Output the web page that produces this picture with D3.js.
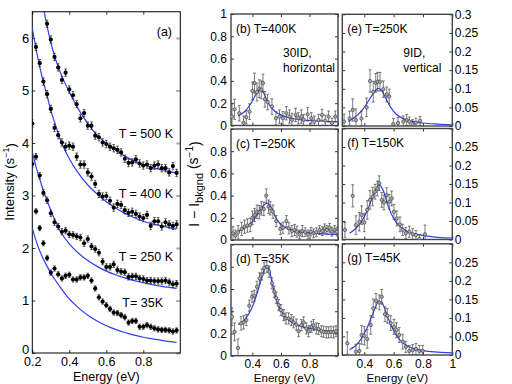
<!DOCTYPE html>
<html><head><meta charset="utf-8">
<script src="https://cdn.jsdelivr.net/npm/d3@7"></script>
<style>body{margin:0;background:#fff}svg{display:block;font-family:"Liberation Sans",Arial,sans-serif}</style>
</head><body><svg id="c" width="512" height="384"></svg>
<script>
// ---------- Panel (a) data ----------
const energyA = [0.20,0.22,0.24,0.26,0.28,0.30,0.32,0.34,0.36,0.38,0.40,0.42,0.44,0.46,0.48,0.50,0.52,0.54,0.56,0.58,0.60,0.62,0.64,0.66,0.68,0.70,0.72,0.74,0.76,0.78,0.80,0.82,0.84,0.86,0.88,0.90,0.92,0.94,0.96,0.98];
const t500 = [null,null,null,null,6.27,5.97,5.64,5.44,5.20,5.34,5.02,4.91,4.74,4.47,4.57,4.33,4.33,4.14,4.11,4.01,3.98,3.93,3.90,3.87,3.82,3.70,3.62,3.63,3.69,3.61,3.57,3.59,3.52,3.57,3.59,3.52,3.52,3.44,3.56,3.43];
const t400 = [4.37,5.83,5.52,5.17,4.93,4.65,4.29,4.15,4.01,3.93,3.95,3.93,3.74,3.59,3.59,3.44,3.36,3.22,3.03,2.98,2.99,2.90,2.77,2.84,2.82,2.72,2.67,2.69,2.65,2.60,2.57,2.63,2.42,2.51,2.51,2.41,2.49,2.45,2.42,2.45];
const t250 = [3.60,3.74,3.38,3.05,2.91,2.66,2.49,2.41,2.31,2.33,2.26,2.25,2.22,2.20,2.09,2.17,2.03,1.98,1.91,1.74,1.64,1.64,1.69,1.58,1.55,1.54,1.45,1.46,1.46,1.42,1.41,1.38,1.38,1.37,1.37,1.37,1.38,1.35,1.31,1.32];
const t35  = [null,2.70,2.38,2.09,1.81,1.53,1.61,1.50,1.42,1.47,1.49,1.40,1.40,1.44,1.44,1.47,1.38,1.23,1.06,0.98,0.91,0.84,0.77,0.76,0.72,0.68,0.58,0.61,0.61,0.50,0.50,0.53,0.50,0.47,0.45,0.44,0.44,0.43,0.41,0.43];
const errA = [0.07,0.07,0.06,0.05];
const fitEA = [0.20,0.22,0.25,0.28,0.30,0.32,0.35,0.40,0.45,0.50,0.55,0.60,0.65,0.70,0.75,0.80,0.85,0.90,0.95,0.98];
const fit500 = [null,null,6.78,6.22,5.92,5.66,5.36,4.97,4.64,4.37,4.15,3.99,3.86,3.75,3.66,3.59,3.53,3.49,3.45,3.43];
const fit400 = [6.18,5.80,5.30,4.90,4.62,4.40,4.08,3.70,3.42,3.20,3.03,2.88,2.76,2.66,2.58,2.51,2.46,2.42,2.38,2.36];
const fit250 = [3.83,3.55,3.20,2.90,2.72,2.55,2.33,2.08,1.90,1.76,1.65,1.56,1.49,1.43,1.38,1.34,1.30,1.27,1.245,1.23];
const fit35  = [2.38,2.14,1.86,1.65,1.52,1.41,1.26,1.03,0.86,0.72,0.61,0.52,0.45,0.39,0.34,0.30,0.27,0.24,0.215,0.20];
const seriesLabels = ["T = 500 K","T = 400 K","T = 250 K","T= 35K"];
const ticksAx = [0.2,0.4,0.6,0.8];
const ticksAy = [0,1,2,3,4,5,6];

// ---------- Panels (b)-(g) data: [energy, I - Ibkgnd, error] ----------
const dataB = [[0.257,0.08,0.12],[0.275,0.145,0.09],[0.308,0.11,0.07],[0.338,0.025,0.06],[0.357,0.074,0.06],[0.38,0.124,0.07],[0.40,0.31,0.08],[0.415,0.38,0.09],[0.432,0.30,0.08],[0.448,0.33,0.08],[0.462,0.32,0.08],[0.474,0.38,0.08],[0.488,0.235,0.07],[0.507,0.21,0.07],[0.537,0.17,0.07],[0.565,0.065,0.06],[0.59,0.08,0.06],[0.614,0.065,0.06],[0.638,0.11,0.06],[0.66,0.08,0.06],[0.677,0.05,0.06],[0.703,0.095,0.06],[0.722,0.065,0.05],[0.743,0.08,0.06],[0.759,0.05,0.05],[0.787,0.10,0.06],[0.813,0.065,0.05],[0.834,0.035,0.05],[0.864,0.05,0.05],[0.888,0.095,0.05],[0.911,0.043,0.05],[0.934,0.08,0.05],[0.958,0.025,0.04],[0.981,0.08,0.05]];
const dataC = [[0.264,0.06,0.06],[0.28,0.04,0.05],[0.30,0.07,0.06],[0.325,0.10,0.06],[0.345,0.12,0.06],[0.365,0.13,0.06],[0.385,0.135,0.06],[0.40,0.20,0.06],[0.415,0.225,0.06],[0.432,0.255,0.06],[0.448,0.25,0.06],[0.463,0.285,0.06],[0.48,0.28,0.06],[0.497,0.40,0.06],[0.513,0.30,0.06],[0.525,0.285,0.06],[0.544,0.255,0.06],[0.567,0.17,0.05],[0.596,0.10,0.05],[0.614,0.11,0.05],[0.638,0.17,0.05],[0.656,0.105,0.05],[0.677,0.08,0.05],[0.696,0.09,0.05],[0.712,0.075,0.05],[0.731,0.05,0.04],[0.75,0.08,0.05],[0.77,0.07,0.04],[0.79,0.05,0.04],[0.81,0.075,0.04],[0.829,0.06,0.04],[0.848,0.07,0.04],[0.871,0.09,0.04],[0.89,0.08,0.04],[0.906,0.105,0.04],[0.923,0.09,0.04],[0.941,0.11,0.04],[0.958,0.075,0.04],[0.976,0.09,0.04],[0.993,0.075,0.04]];
const dataD = [[0.257,0.35,0.08],[0.275,0.215,0.08],[0.299,0.07,0.08],[0.32,0.29,0.06],[0.338,0.30,0.06],[0.357,0.32,0.05],[0.378,0.45,0.05],[0.397,0.53,0.05],[0.413,0.54,0.05],[0.432,0.62,0.05],[0.45,0.695,0.05],[0.467,0.73,0.05],[0.483,0.79,0.05],[0.502,0.80,0.05],[0.518,0.755,0.05],[0.537,0.65,0.05],[0.553,0.575,0.05],[0.567,0.52,0.05],[0.584,0.455,0.05],[0.60,0.41,0.05],[0.619,0.365,0.05],[0.635,0.335,0.05],[0.654,0.335,0.05],[0.673,0.32,0.05],[0.689,0.30,0.05],[0.708,0.28,0.05],[0.724,0.22,0.05],[0.743,0.275,0.05],[0.759,0.30,0.05],[0.778,0.245,0.05],[0.794,0.22,0.05],[0.813,0.26,0.05],[0.829,0.275,0.05],[0.848,0.245,0.05],[0.864,0.24,0.05],[0.883,0.22,0.05],[0.899,0.215,0.05],[0.918,0.21,0.05],[0.934,0.21,0.05],[0.951,0.215,0.05],[0.969,0.21,0.05],[0.986,0.22,0.05]];
const dataE = [[0.262,0.012,0.02],[0.30,0.02,0.02],[0.321,0.043,0.03],[0.343,0.016,0.03],[0.38,0.02,0.02],[0.416,0.05,0.025],[0.439,0.121,0.03],[0.461,0.092,0.028],[0.478,0.116,0.025],[0.491,0.119,0.025],[0.507,0.119,0.025],[0.53,0.099,0.022],[0.553,0.085,0.02],[0.57,0.079,0.02],[0.598,0.005,0.015],[0.63,0.008,0.015],[0.666,0.012,0.015],[0.689,0.016,0.015],[0.707,0.012,0.012],[0.73,0.005,0.012],[0.752,0.009,0.012],[0.78,0.014,0.012]];
const dataF = [[0.268,0.026,0.02],[0.321,0.118,0.03],[0.343,0.039,0.025],[0.366,0.048,0.025],[0.382,0.066,0.025],[0.40,0.046,0.025],[0.42,0.08,0.025],[0.439,0.107,0.025],[0.457,0.116,0.025],[0.473,0.129,0.02],[0.489,0.138,0.02],[0.502,0.152,0.02],[0.519,0.107,0.02],[0.534,0.10,0.02],[0.553,0.12,0.02],[0.57,0.102,0.02],[0.587,0.111,0.02],[0.602,0.075,0.02],[0.621,0.057,0.02],[0.643,0.041,0.02],[0.662,0.026,0.015],[0.683,0.017,0.015],[0.707,0.021,0.015],[0.73,0.014,0.015],[0.752,0.012,0.012],[0.775,0.001,0.012],[0.814,0.014,0.025]];
const dataG = [[0.284,0.032,0.03],[0.343,0.009,0.02],[0.366,0.011,0.02],[0.382,0.054,0.025],[0.40,0.052,0.025],[0.42,0.043,0.025],[0.444,0.081,0.025],[0.461,0.126,0.025],[0.48,0.146,0.02],[0.502,0.142,0.02],[0.519,0.157,0.02],[0.541,0.11,0.02],[0.557,0.106,0.02],[0.58,0.086,0.02],[0.602,0.076,0.02],[0.62,0.067,0.02],[0.638,0.054,0.02],[0.662,0.036,0.02],[0.683,0.022,0.015],[0.707,0.011,0.015],[0.73,0.013,0.015],[0.752,0.016,0.015],[0.775,0.011,0.015],[0.798,0.011,0.015]];
const fitB = [[0.30,0.085],[0.35,0.13],[0.40,0.22],[0.43,0.29],[0.455,0.325],[0.48,0.29],[0.50,0.23],[0.53,0.165],[0.56,0.125],[0.60,0.095],[0.65,0.072],[0.70,0.058],[0.80,0.045],[0.90,0.038],[1.0,0.034]];
const fitC = [[0.30,0.08],[0.35,0.11],[0.40,0.165],[0.44,0.24],[0.47,0.30],[0.50,0.33],[0.53,0.30],[0.56,0.21],[0.60,0.14],[0.65,0.10],[0.70,0.08],[0.80,0.065],[0.90,0.055],[1.0,0.05]];
const fitD = [[0.30,0.28],[0.35,0.33],[0.40,0.44],[0.44,0.59],[0.47,0.72],[0.497,0.81],[0.52,0.76],[0.55,0.59],[0.58,0.46],[0.62,0.365],[0.66,0.315],[0.70,0.285],[0.80,0.245],[0.90,0.225],[1.0,0.215]];
const fitE = [[0.29,0.012],[0.33,0.022],[0.38,0.04],[0.42,0.062],[0.46,0.087],[0.495,0.101],[0.52,0.094],[0.55,0.072],[0.58,0.05],[0.62,0.031],[0.66,0.021],[0.72,0.013],[0.80,0.008],[0.90,0.005],[1.0,0.003]];
const fitF = [[0.30,0.017],[0.34,0.029],[0.38,0.048],[0.42,0.078],[0.46,0.118],[0.50,0.147],[0.53,0.132],[0.56,0.093],[0.60,0.057],[0.64,0.036],[0.70,0.021],[0.80,0.011],[0.90,0.006],[1.0,0.004]];
const fitG = [[0.30,0.015],[0.34,0.025],[0.38,0.044],[0.42,0.074],[0.46,0.113],[0.50,0.145],[0.52,0.142],[0.55,0.113],[0.58,0.082],[0.62,0.052],[0.66,0.034],[0.70,0.023],[0.80,0.012],[0.90,0.008],[1.0,0.006]];
const ticksLeftCol = [0,0.2,0.4,0.6,0.8,1];
const ticksRightCol = [0,0.05,0.1,0.15,0.2,0.25,0.3];
const ticksX = [0.4,0.6,0.8,1];

const svg = d3.select('#c');
const BLUE = '#2e42f2';
const FONT = '"Liberation Sans",Arial,sans-serif';
const defs = svg.append('defs');
function clip(id,x0,y0,x1,y1){
  defs.append('clipPath').attr('id',id).append('rect').attr('x',x0).attr('y',y0).attr('width',x1-x0).attr('height',y1-y0);
  return `url(#${id})`;
}
function styleAxis(g,fs){
  g.attr('font-family',FONT).attr('font-size',fs);
  g.select('.domain').remove();
  g.selectAll('text').attr('fill','#000');
  g.selectAll('line').attr('stroke','#000').attr('stroke-width',0.8);
}

// ================= Panel (a) =================
(function(){
  const L=32.3,R=180.3,T=11.75,B=353;
  const x = d3.scaleLinear().domain([0.2,1.0]).range([L,R]);
  const y = d3.scaleLinear().domain([0,6.5]).range([B,T]);
  const cp = clip('clipA',L,T,R,B);
  svg.append('g').attr('transform',`translate(0,${B})`)
    .call(d3.axisBottom(x).tickValues(ticksAx).tickSizeInner(-3).tickSizeOuter(0).tickPadding(4.5).tickFormat(d=>d.toFixed(1)))
    .call(g=>styleAxis(g,12.5));
  svg.append('g').attr('transform',`translate(0,${T})`)
    .call(d3.axisTop(x).tickValues(ticksAx).tickSizeInner(-3).tickSizeOuter(0).tickFormat(''))
    .call(g=>styleAxis(g,12.5));
  svg.append('g').attr('transform',`translate(${L},0)`)
    .call(d3.axisLeft(y).tickValues(ticksAy).tickSizeInner(-3).tickSizeOuter(0).tickPadding(3).tickFormat(d=>String(d)))
    .call(g=>styleAxis(g,13))
    .call(g=>g.selectAll('.tick text').filter(d=>d===0).attr('dy','0.05em'));
  svg.append('g').attr('transform',`translate(${R},0)`)
    .call(d3.axisRight(y).tickValues(ticksAy).tickSizeInner(-4).tickSizeOuter(0).tickFormat(''))
    .call(g=>{g.select('.domain').remove(); g.selectAll('line').attr('stroke','#aaa').attr('stroke-width',2);});
  svg.append('rect').attr('x',L).attr('y',T).attr('width',R-L).attr('height',B-T)
    .attr('fill','none').attr('stroke','#000').attr('stroke-width',1);

  const line = d3.line().defined(d=>d[1]!=null).x(d=>x(d[0])).y(d=>y(d[1])).curve(d3.curveMonotoneX);
  const fits=[fit500,fit400,fit250,fit35];
  const pts=[t500,t400,t250,t35];
  const gp = svg.append('g').attr('clip-path',cp);
  fits.forEach(f=>{
    gp.append('path').datum(fitEA.map((e,i)=>[e,f[i]])).attr('d',line)
      .attr('fill','none').attr('stroke',BLUE).attr('stroke-width',1.2);
  });
  pts.forEach((s,si)=>{
    const d = energyA.map((e,i)=>[e,s[i]]).filter(p=>p[1]!=null);
    const g = gp.append('g');
    g.selectAll('line.eb').data(d).join('line').attr('x1',p=>x(p[0])).attr('x2',p=>x(p[0]))
      .attr('y1',p=>y(p[1]-errA[si])).attr('y2',p=>y(p[1]+errA[si])).attr('stroke','#222').attr('stroke-width',0.8);
    [-1,1].forEach(sg=>{
      g.selectAll(null).data(d).join('line').attr('x1',p=>x(p[0])-1.3).attr('x2',p=>x(p[0])+1.3)
        .attr('y1',p=>y(p[1]+sg*errA[si])).attr('y2',p=>y(p[1]+sg*errA[si])).attr('stroke','#222').attr('stroke-width',0.7);
    });
    g.selectAll('circle').data(d).join('circle').attr('cx',p=>x(p[0])).attr('cy',p=>y(p[1])).attr('r',2.1).attr('fill','#000');
  });
  svg.append('text').attr('x',172).attr('y',36).attr('text-anchor','end').attr('font-size',12.5).attr('font-family',FONT).text('(a)');
  const labY=[138,198,261,307], labX=[173,173,173,163];
  seriesLabels.forEach((t,i)=>svg.append('text').attr('x',labX[i]).attr('y',labY[i]).attr('text-anchor','end')
    .attr('font-size',12.5).attr('font-family',FONT).text(t));
  svg.append('text').attr('x',(L+R)/2).attr('y',381).attr('text-anchor','middle').attr('font-size',12.5).attr('font-family',FONT).text('Energy (eV)');
  const yl = svg.append('text').attr('transform','translate(13.5,182) rotate(-90)').attr('text-anchor','middle')
    .attr('font-size',13).attr('font-family',FONT);
  yl.append('tspan').text('Intensity (s');
  yl.append('tspan').attr('dy','-0.45em').attr('font-size',9).text('−1');
  yl.append('tspan').attr('dy','0.45em').text(')');
})();

// ================= Panels (b)-(g) =================
const panels = [
  {id:'b',L:231,R:338,T:14,B:125.5,ydom:[0,1],yt:ticksLeftCol,ylab:[0,0.2,0.4,0.6,0.8,1],side:'left',xlab:false,data:dataB,fit:fitB,title:'(b) T=400K',note:['30ID,','horizontal']},
  {id:'c',L:231,R:338,T:129,B:240,ydom:[0,1],yt:ticksLeftCol,ylab:[0,0.2,0.4,0.6,0.8],side:'left',xlab:false,data:dataC,fit:fitC,title:'(c) T=250K'},
  {id:'d',L:231,R:338,T:244.5,B:355.7,ydom:[0,1],yt:ticksLeftCol,ylab:[0,0.2,0.4,0.6,0.8],side:'left',xlab:[0.4,0.6,0.8],data:dataD,fit:fitD,title:'(d) T=35K'},
  {id:'e',L:342.3,R:452.3,T:14.3,B:126,ydom:[0,0.3],yt:ticksRightCol,ylab:[0,0.05,0.1,0.15,0.2,0.25,0.3],side:'right',xlab:false,data:dataE,fit:fitE,title:'(e) T=250K',note:['9ID,','vertical']},
  {id:'f',L:342.3,R:452.3,T:128.5,B:239.5,ydom:[0,0.3],yt:ticksRightCol,ylab:[0,0.05,0.1,0.15,0.2,0.25],side:'right',xlab:false,data:dataF,fit:fitF,title:'(f) T=150K'},
  {id:'g',L:342.3,R:452.3,T:243.8,B:355,ydom:[0,0.3],yt:ticksRightCol,ylab:[0,0.05,0.1,0.15,0.2,0.25],side:'right',xlab:[0.4,0.6,0.8,1],data:dataG,fit:fitG,title:'(g) T=45K'}
];
panels.forEach(p=>{
  const x = d3.scaleLinear().domain([0.25,1.0]).range([p.L,p.R]);
  const y = d3.scaleLinear().domain(p.ydom).range([p.B,p.T]);
  const cp = clip('clip'+p.id,p.L,p.T,p.R,p.B);
  const fmtY = d => p.ylab.includes(d) ? String(d) : '';
  svg.append('g').attr('transform',`translate(${p.L},0)`)
    .call(d3.axisLeft(y).tickValues(p.yt).tickSizeInner(-3).tickSizeOuter(0).tickPadding(4).tickFormat(p.side==='left'?fmtY:''))
    .call(g=>styleAxis(g,12));
  svg.append('g').attr('transform',`translate(${p.R},0)`)
    .call(d3.axisRight(y).tickValues(p.yt).tickSizeInner(-3).tickSizeOuter(0).tickPadding(2.5).tickFormat(p.side==='right'?fmtY:''))
    .call(g=>styleAxis(g,12));
  svg.append('g').attr('transform',`translate(0,${p.B})`)
    .call(d3.axisBottom(x).tickValues(ticksX).tickSizeInner(-3).tickSizeOuter(0).tickPadding(4)
      .tickFormat(d=> p.xlab && p.xlab.includes(d) ? String(d) : ''))
    .call(g=>styleAxis(g,12));
  svg.append('g').attr('transform',`translate(0,${p.T})`)
    .call(d3.axisTop(x).tickValues(ticksX).tickSizeInner(-3).tickSizeOuter(0).tickFormat(''))
    .call(g=>styleAxis(g,12));
  svg.append('rect').attr('x',p.L).attr('y',p.T).attr('width',p.R-p.L).attr('height',p.B-p.T)
    .attr('fill','none').attr('stroke','#444').attr('stroke-width',1.4);

  const gp = svg.append('g').attr('clip-path',cp);
  const line = d3.line().x(d=>x(d[0])).y(d=>y(d[1])).curve(d3.curveMonotoneX);
  gp.append('path').datum(p.fit).attr('d',line).attr('fill','none').attr('stroke',BLUE).attr('stroke-width',1.2);
  gp.selectAll('line.eb').data(p.data).join('line').attr('x1',d=>x(d[0])).attr('x2',d=>x(d[0]))
    .attr('y1',d=>y(d[1]-d[2])).attr('y2',d=>y(d[1]+d[2])).attr('stroke','#444').attr('stroke-width',0.7);
  [-1,1].forEach(sg=>{
    gp.selectAll(null).data(p.data).join('line').attr('x1',d=>x(d[0])-1.4).attr('x2',d=>x(d[0])+1.4)
      .attr('y1',d=>y(d[1]+sg*d[2])).attr('y2',d=>y(d[1]+sg*d[2])).attr('stroke','#444').attr('stroke-width',0.7);
  });
  gp.selectAll('circle').data(p.data).join('circle').attr('cx',d=>x(d[0])).attr('cy',d=>y(d[1])).attr('r',1.7)
    .attr('fill','#aaa').attr('stroke','#333').attr('stroke-width',0.6);

  svg.append('text').attr('x',p.L+5).attr('y',p.T+18.5).attr('font-size',12).attr('font-family',FONT).text(p.title);
  if(p.note){
    svg.append('text').attr('x',p.L+(p.side==='left'?52:61)).attr('y',p.T+43).attr('font-size',12).attr('font-family',FONT).text(p.note[0]);
    svg.append('text').attr('x',p.L+(p.side==='left'?52:61)).attr('y',p.T+58).attr('font-size',12).attr('font-family',FONT).text(p.note[1]);
  }
  if(p.xlab){
    svg.append('text').attr('x',(p.L+p.R)/2).attr('y',381.5).attr('text-anchor','middle').attr('font-size',11.5).attr('font-family',FONT).text('Energy (eV)');
  }
});

// left label for (b)-(d)
const yl2 = svg.append('text').attr('transform','translate(199,184) rotate(-90)').attr('text-anchor','middle')
  .attr('font-size',14).attr('font-family',FONT);
yl2.append('tspan').text('I − I');
yl2.append('tspan').attr('dy','0.35em').attr('font-size',11).text('bkgnd');
yl2.append('tspan').attr('dy','-0.35em').text(' (s');
yl2.append('tspan').attr('dy','-0.45em').attr('font-size',10).text('−1');
yl2.append('tspan').attr('dy','0.45em').text(')');
</script></body></html>
